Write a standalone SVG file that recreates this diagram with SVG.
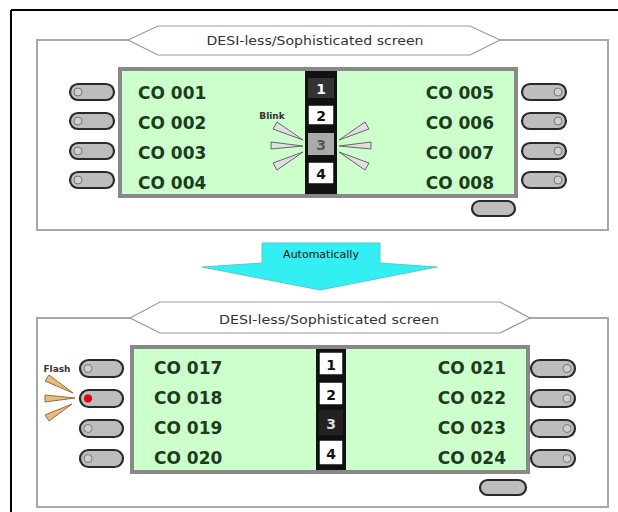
<svg xmlns="http://www.w3.org/2000/svg" width="618" height="512" viewBox="0 0 618 512">
<style>
.frame{fill:none;stroke:#000;stroke-width:2}
.panel{fill:#fff;stroke:#a8a8a8;stroke-width:2}
.hex{fill:#fff;stroke:#9a9a9a;stroke-width:1.2}
.title{font-family:"DejaVu Sans",sans-serif;font-size:12px;fill:#333;text-anchor:middle}
.screen{fill:#ccffcc;stroke:#888;stroke-width:4}
.col{fill:#111}
.co{font-family:"DejaVu Sans",sans-serif;font-weight:bold;font-size:17px;fill:#1d3b1d}
.coR{text-anchor:end}
.bw{fill:#fff;stroke:#111;stroke-width:1.5}
.bd{fill:#333}
.bg{fill:#aaa}
.num{font-family:"DejaVu Sans",sans-serif;font-weight:bold;font-size:14px;text-anchor:middle}
.btn{fill:#bdbdbd;stroke:#2a2a2a;stroke-width:2.2}
.knob{fill:#d0d0d0;stroke:#777;stroke-width:1}
.ray{fill:#e0e0e0;stroke:#666;stroke-width:1}
.fray{fill:#e8bc80;stroke:#9a6a3a;stroke-width:1}
.small{font-family:"DejaVu Sans",sans-serif;font-weight:bold;font-size:9px;fill:#333}
.arrow{fill:#33eef2;stroke:#5cc;stroke-width:1}
.auto{font-family:"DejaVu Sans",sans-serif;font-size:11px;fill:#111;text-anchor:middle}
</style>

<g id="frame">
<line class="frame" x1="11" y1="10" x2="618" y2="10"/>
<line class="frame" x1="11" y1="10" x2="11" y2="512"/>
</g>

<g id="top-panel">
<rect class="panel" x="37" y="40" width="571" height="190"/>
<polygon class="hex" points="128,40 158,26 470,26 500,40 470,55 158,55"/>
<text class="title" x="315" y="45" textLength="217" lengthAdjust="spacingAndGlyphs">DESI-less/Sophisticated screen</text>
<rect class="screen" x="120" y="69" width="396" height="127"/>
<rect class="col" x="305" y="71" width="32" height="123"/>
<rect class="bd" x="308" y="78" width="26" height="20"/>
<text class="num" x="321" y="94" fill="#fff">1</text>
<rect class="bw" x="308" y="105" width="26" height="20"/>
<text class="num" x="321" y="121" fill="#111">2</text>
<rect class="bg" x="308" y="133" width="26" height="22"/>
<text class="num" x="321" y="150" fill="#555">3</text>
<rect class="bw" x="308" y="162" width="26" height="22"/>
<text class="num" x="321" y="179" fill="#111">4</text>
<text class="co" x="138" y="99">CO 001</text>
<text class="co" x="138" y="129">CO 002</text>
<text class="co" x="138" y="159">CO 003</text>
<text class="co" x="138" y="189">CO 004</text>
<text class="co coR" x="494" y="99">CO 005</text>
<text class="co coR" x="494" y="129">CO 006</text>
<text class="co coR" x="494" y="159">CO 007</text>
<text class="co coR" x="494" y="189">CO 008</text>
<text class="small" x="272" y="119" text-anchor="middle">Blink</text>
<polygon class="ray" points="273,129 277,122 303,140"/>
<polygon class="ray" points="271,142 271,149 303,146"/>
<polygon class="ray" points="273,163 277,170 303,152"/>
<polygon class="ray" points="369,129 365,122 339,140"/>
<polygon class="ray" points="371,142 371,149 339,146"/>
<polygon class="ray" points="369,163 365,170 339,152"/>
<rect class="btn" x="70" y="84" width="44" height="16" rx="8"/><circle class="knob" cx="78" cy="92" r="4"/>
<rect class="btn" x="70" y="113" width="44" height="16" rx="8"/><circle class="knob" cx="78" cy="121" r="4"/>
<rect class="btn" x="70" y="143" width="44" height="16" rx="8"/><circle class="knob" cx="78" cy="151" r="4"/>
<rect class="btn" x="70" y="172" width="44" height="16" rx="8"/><circle class="knob" cx="78" cy="180" r="4"/>
<rect class="btn" x="522" y="84" width="44" height="16" rx="8"/><circle class="knob" cx="558" cy="92" r="4"/>
<rect class="btn" x="522" y="113" width="44" height="16" rx="8"/><circle class="knob" cx="558" cy="121" r="4"/>
<rect class="btn" x="522" y="143" width="44" height="16" rx="8"/><circle class="knob" cx="558" cy="151" r="4"/>
<rect class="btn" x="522" y="172" width="44" height="16" rx="8"/><circle class="knob" cx="558" cy="180" r="4"/>
<rect class="btn" x="472" y="201" width="43" height="15" rx="7.5"/>
</g>

<g id="connectors">
<polygon class="arrow" points="262,243 380,243 380,263 437,267 320,290 202,267 262,263"/>
<text class="auto" x="321" y="258">Automatically</text>
</g>

<g id="bottom-panel">
<rect class="panel" x="37" y="318" width="571" height="189"/>
<polygon class="hex" points="130,318 160,302 500,302 530,318 500,333 160,333"/>
<text class="title" x="329" y="324" textLength="220" lengthAdjust="spacingAndGlyphs">DESI-less/Sophisticated screen</text>
<rect class="screen" x="132" y="347" width="396" height="125"/>
<rect class="col" x="316" y="349" width="30" height="121"/>
<rect class="bw" x="319" y="352" width="24" height="23"/>
<text class="num" x="331" y="370" fill="#111">1</text>
<rect class="bw" x="319" y="382" width="24" height="23"/>
<text class="num" x="331" y="400" fill="#111">2</text>
<rect fill="#222" x="319" y="410" width="24" height="25"/>
<text class="num" x="331" y="429" fill="#ddd">3</text>
<rect class="bw" x="319" y="440" width="24" height="25"/>
<text class="num" x="331" y="459" fill="#111">4</text>
<text class="co" x="154" y="374">CO 017</text>
<text class="co" x="154" y="404">CO 018</text>
<text class="co" x="154" y="434">CO 019</text>
<text class="co" x="154" y="464">CO 020</text>
<text class="co coR" x="506" y="374">CO 021</text>
<text class="co coR" x="506" y="404">CO 022</text>
<text class="co coR" x="506" y="434">CO 023</text>
<text class="co coR" x="506" y="464">CO 024</text>
<text class="small" x="57" y="372" text-anchor="middle">Flash</text>
<polygon class="fray" points="45,381 49,375 73,393"/>
<polygon class="fray" points="45,395 45,402 75,398"/>
<polygon class="fray" points="45,415 49,421 72,404"/>
<rect class="btn" x="80" y="360" width="43" height="17" rx="8.5"/><circle class="knob" cx="88" cy="368.5" r="4"/>
<rect class="btn" x="80" y="390" width="43" height="17" rx="8.5"/><circle cx="88" cy="398.5" r="4" fill="#e00010"/>
<rect class="btn" x="80" y="420" width="43" height="17" rx="8.5"/><circle class="knob" cx="88" cy="428.5" r="4"/>
<rect class="btn" x="80" y="450" width="43" height="17" rx="8.5"/><circle class="knob" cx="88" cy="458.5" r="4"/>
<rect class="btn" x="531" y="360" width="44" height="17" rx="8.5"/><circle class="knob" cx="567" cy="368.5" r="4"/>
<rect class="btn" x="531" y="390" width="44" height="17" rx="8.5"/><circle class="knob" cx="567" cy="398.5" r="4"/>
<rect class="btn" x="531" y="420" width="44" height="17" rx="8.5"/><circle class="knob" cx="567" cy="428.5" r="4"/>
<rect class="btn" x="531" y="450" width="44" height="17" rx="8.5"/><circle class="knob" cx="567" cy="458.5" r="4"/>
<rect class="btn" x="480" y="480" width="46" height="15" rx="7.5"/>
</g>
</svg>
